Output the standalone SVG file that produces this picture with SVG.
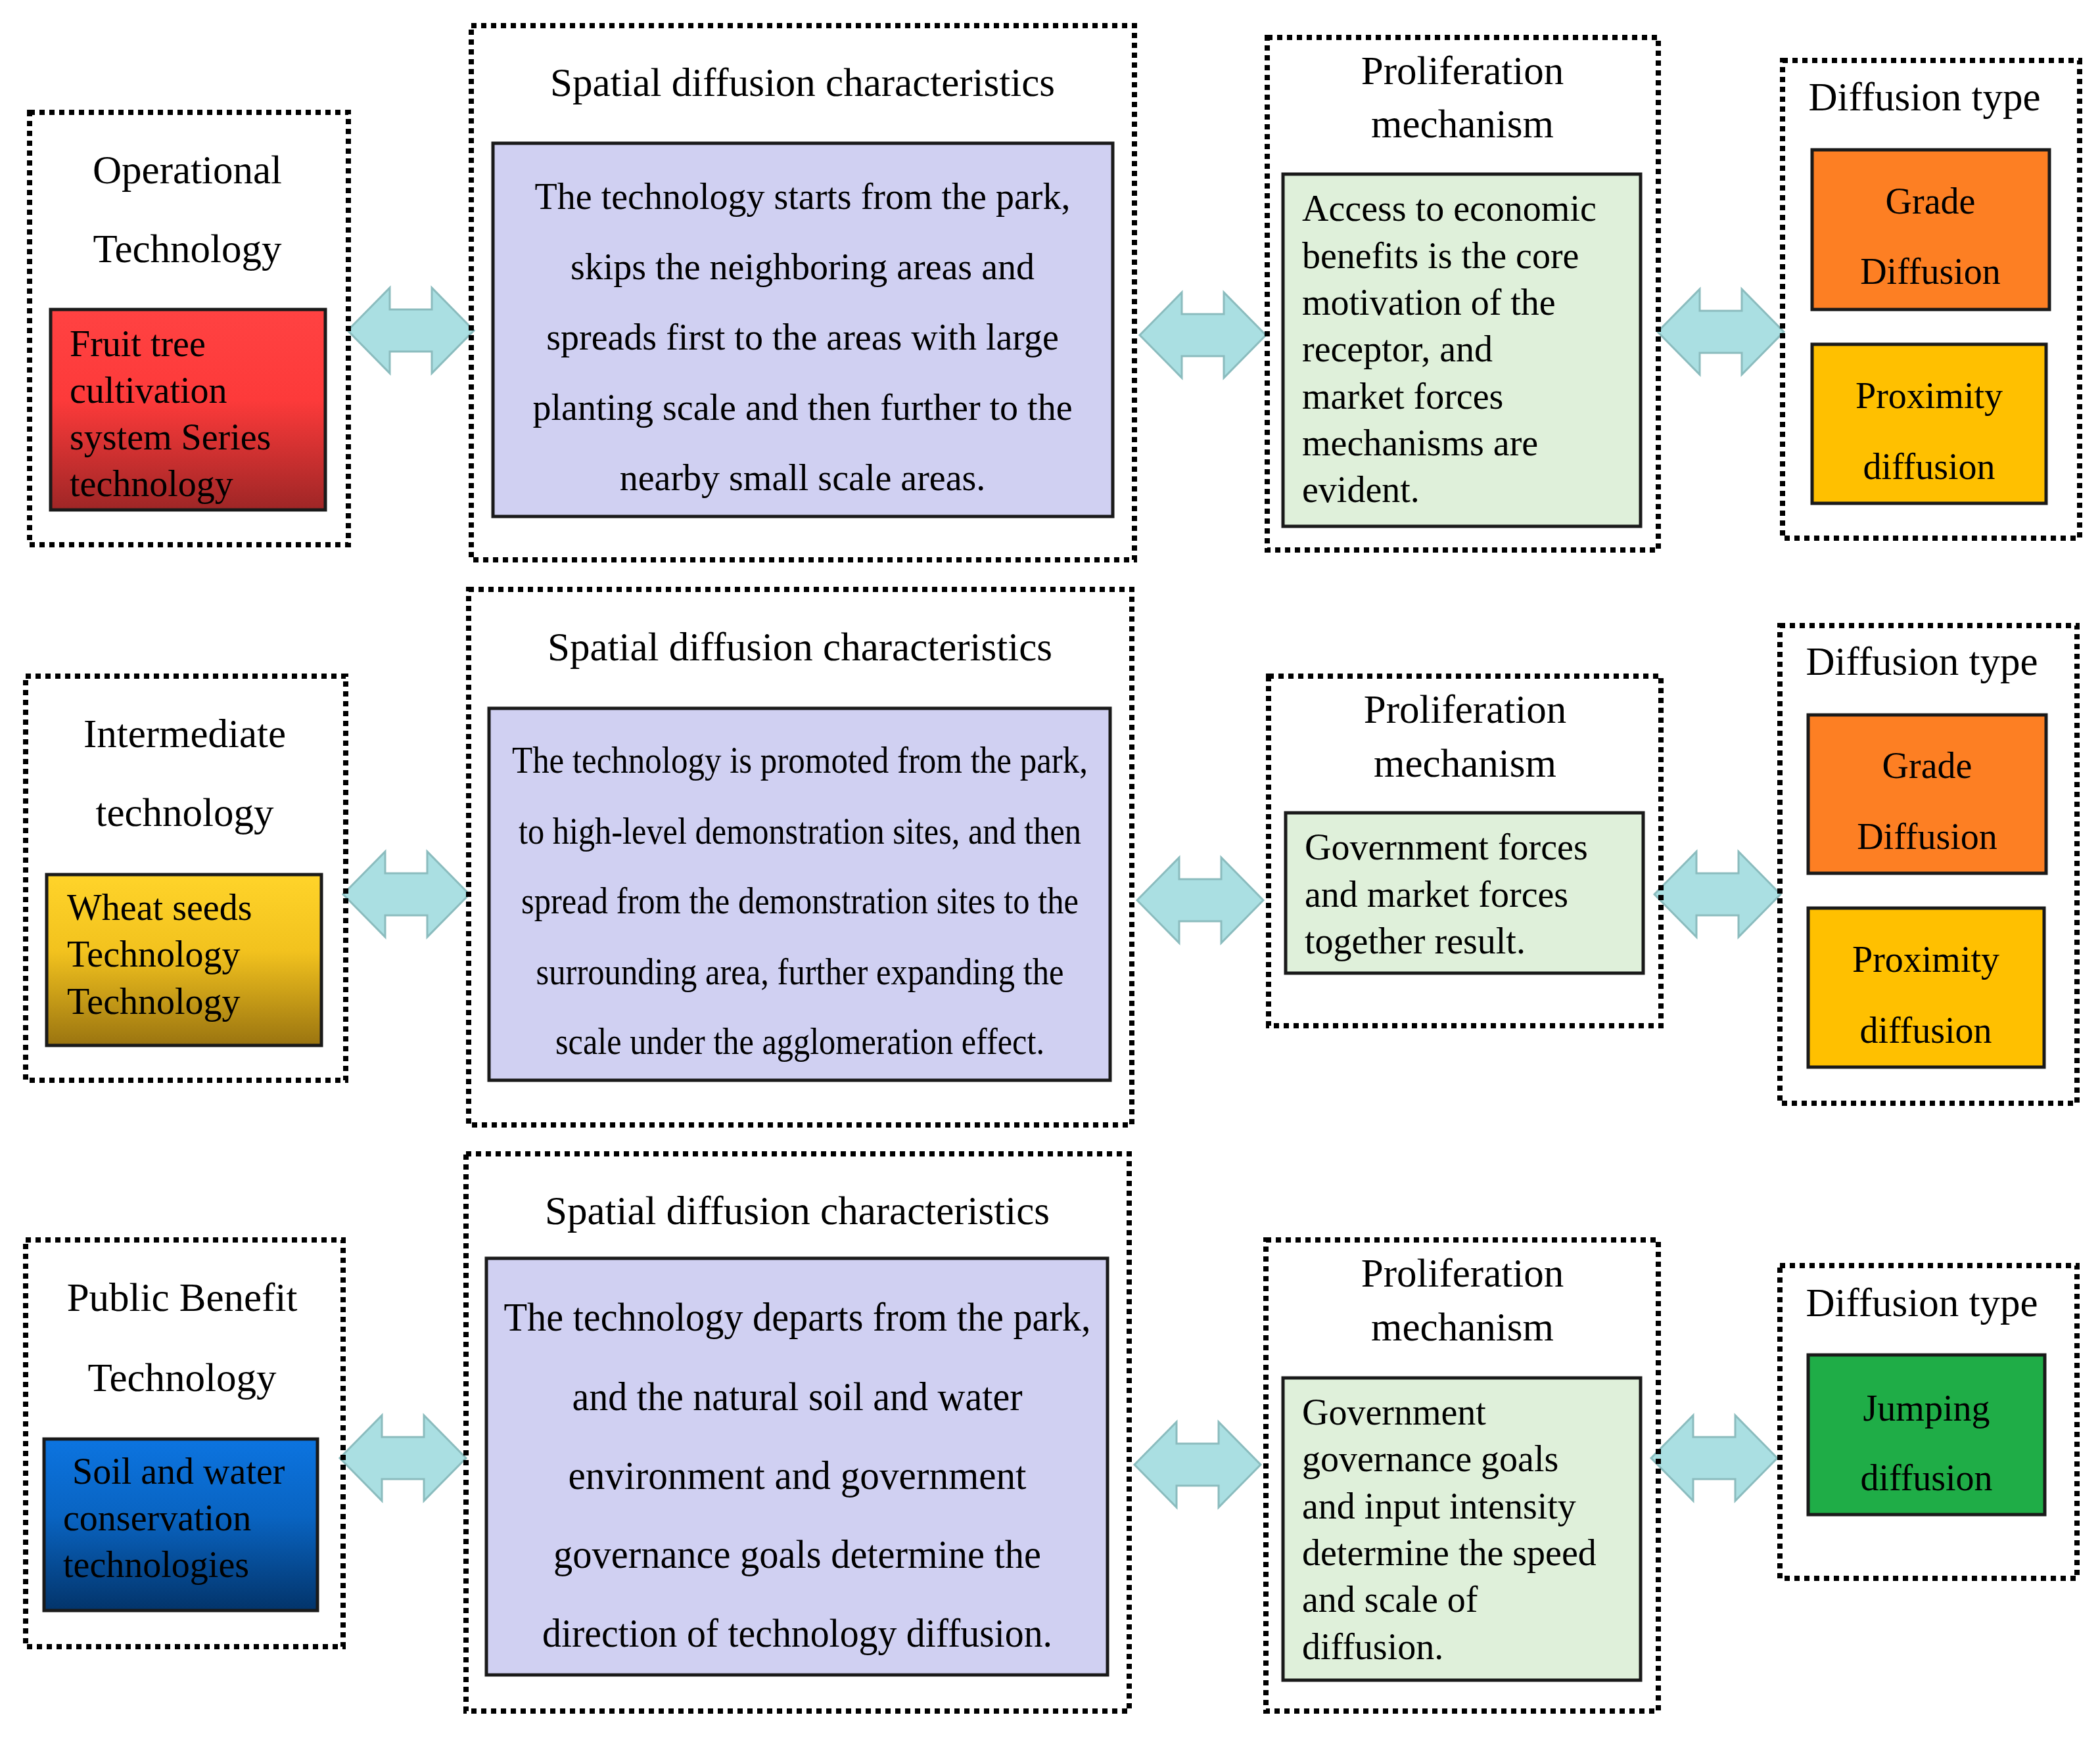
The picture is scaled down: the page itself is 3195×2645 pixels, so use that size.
<svg xmlns="http://www.w3.org/2000/svg" width="3195" height="2645" viewBox="0 0 3195 2645">
<style>
.dot{fill:none;stroke:#000;stroke-width:8;stroke-dasharray:8 7}
.in{stroke:#1a1a1a;stroke-width:5}
.t{font-family:"Liberation Serif","Times New Roman",serif;fill:#000}
.h{font-size:61px;text-anchor:middle}
.c{font-size:56px;text-anchor:middle}
.l{font-size:56px}
.arr{fill:#aadfe2;stroke:#8bbcbe;stroke-width:3}
</style>
<defs>
<linearGradient id="gr" x1="0" y1="0" x2="0" y2="1"><stop offset="0" stop-color="#ff4242"/><stop offset="0.45" stop-color="#fd3a3a"/><stop offset="1" stop-color="#9e2626"/></linearGradient>
<linearGradient id="gy" x1="0" y1="0" x2="0" y2="1"><stop offset="0" stop-color="#ffd42a"/><stop offset="0.45" stop-color="#f2c21e"/><stop offset="1" stop-color="#9a7410"/></linearGradient>
<linearGradient id="gb" x1="0" y1="0" x2="0" y2="1"><stop offset="0" stop-color="#0c74e0"/><stop offset="0.45" stop-color="#0964c2"/><stop offset="1" stop-color="#03346a"/></linearGradient>
<path id="ar" class="arr" d="M0 65 L64 0 L64 33 L128 33 L128 0 L192 65 L128 130 L128 97 L64 97 L64 130 Z"/>
</defs>

<g id="connectors">
<use href="#ar" x="529" y="438"/>
<use href="#ar" x="1734" y="445"/>
<use href="#ar" x="2522" y="440"/>
<use href="#ar" x="522" y="1296"/>
<use href="#ar" x="1730" y="1305"/>
<use href="#ar" x="2517" y="1296"/>
<use href="#ar" x="517" y="2154"/>
<use href="#ar" x="1726" y="2164"/>
<use href="#ar" x="2512" y="2154"/>
</g>

<!-- Row 1 -->
<g id="op-tech">
<rect class="dot" x="45" y="171" width="485" height="658"/>
<text class="t h" x="285" y="279">Operational</text>
<text class="t h" x="285" y="399">Technology</text>
<rect class="in" x="77" y="471" width="418" height="305" fill="url(#gr)"/>
<text class="t l" x="106" y="542">Fruit tree</text>
<text class="t l" x="106" y="613">cultivation</text>
<text class="t l" x="106" y="684">system Series</text>
<text class="t l" x="106" y="755">technology</text>
</g>
<g id="spatial-1">
<rect class="dot" x="717" y="39" width="1009" height="813"/>
<text class="t h" x="1221" y="146">Spatial diffusion characteristics</text>
<rect class="in" x="750" y="218" width="943" height="568" fill="#d0d0f2"/>
<text class="t c" x="1221" y="318">The technology starts from the park,</text>
<text class="t c" x="1221" y="425">skips the neighboring areas and</text>
<text class="t c" x="1221" y="532">spreads first to the areas with large</text>
<text class="t c" x="1221" y="639">planting scale and then further to the</text>
<text class="t c" x="1221" y="746">nearby small scale areas.</text>
</g>
<g id="mech-1">
<rect class="dot" x="1928" y="57" width="595" height="780"/>
<text class="t h" x="2225" y="128">Proliferation</text>
<text class="t h" x="2225" y="209">mechanism</text>
<rect class="in" x="1952" y="265" width="544" height="536" fill="#dff0da"/>
<text class="t l" x="1981" y="336">Access to economic</text>
<text class="t l" x="1981" y="408">benefits is the core</text>
<text class="t l" x="1981" y="479">motivation of the</text>
<text class="t l" x="1981" y="550">receptor, and</text>
<text class="t l" x="1981" y="622">market forces</text>
<text class="t l" x="1981" y="693">mechanisms are</text>
<text class="t l" x="1981" y="764">evident.</text>
</g>
<g id="type-1">
<rect class="dot" x="2712" y="92" width="452" height="727"/>
<text class="t h" x="2928" y="168">Diffusion type</text>
<rect class="in" x="2757" y="228" width="361" height="243" fill="#fd7f23"/>
<text class="t c" x="2937" y="325">Grade</text>
<text class="t c" x="2937" y="432">Diffusion</text>
<rect class="in" x="2757" y="524" width="356" height="242" fill="#ffc000"/>
<text class="t c" x="2935" y="621">Proximity</text>
<text class="t c" x="2935" y="729">diffusion</text>
</g>

<!-- Row 2 -->
<g id="inter-tech">
<rect class="dot" x="39" y="1029" width="487" height="615"/>
<text class="t h" x="281" y="1137">Intermediate</text>
<text class="t h" x="281" y="1257">technology</text>
<rect class="in" x="71" y="1331" width="418" height="260" fill="url(#gy)"/>
<text class="t l" x="102" y="1400">Wheat seeds</text>
<text class="t l" x="102" y="1471">Technology</text>
<text class="t l" x="102" y="1543">Technology</text>
</g>
<g id="spatial-2">
<rect class="dot" x="713" y="897" width="1009" height="815"/>
<text class="t h" x="1217" y="1005">Spatial diffusion characteristics</text>
<rect class="in" x="744" y="1078" width="945" height="566" fill="#d0d0f2"/>
<text class="t c" x="1217" y="1176" textLength="876" lengthAdjust="spacingAndGlyphs">The technology is promoted from the park,</text>
<text class="t c" x="1217" y="1284" textLength="856" lengthAdjust="spacingAndGlyphs">to high-level demonstration sites, and then</text>
<text class="t c" x="1217" y="1390" textLength="848" lengthAdjust="spacingAndGlyphs">spread from the demonstration sites to the</text>
<text class="t c" x="1217" y="1498" textLength="803" lengthAdjust="spacingAndGlyphs">surrounding area, further expanding the</text>
<text class="t c" x="1217" y="1604" textLength="744" lengthAdjust="spacingAndGlyphs">scale under the agglomeration effect.</text>
</g>
<g id="mech-2">
<rect class="dot" x="1930" y="1029" width="597" height="532"/>
<text class="t h" x="2229" y="1100">Proliferation</text>
<text class="t h" x="2229" y="1182">mechanism</text>
<rect class="in" x="1956" y="1237" width="544" height="244" fill="#dff0da"/>
<text class="t l" x="1985" y="1308">Government forces</text>
<text class="t l" x="1985" y="1380">and market forces</text>
<text class="t l" x="1985" y="1451">together result.</text>
</g>
<g id="type-2">
<rect class="dot" x="2708" y="952" width="452" height="727"/>
<text class="t h" x="2924" y="1027">Diffusion type</text>
<rect class="in" x="2751" y="1088" width="362" height="241" fill="#fd7f23"/>
<text class="t c" x="2932" y="1184">Grade</text>
<text class="t c" x="2932" y="1292">Diffusion</text>
<rect class="in" x="2751" y="1382" width="359" height="242" fill="#ffc000"/>
<text class="t c" x="2930" y="1479">Proximity</text>
<text class="t c" x="2930" y="1587">diffusion</text>
</g>

<!-- Row 3 -->
<g id="public-tech">
<rect class="dot" x="39" y="1887" width="483" height="619"/>
<text class="t h" x="277" y="1995">Public Benefit</text>
<text class="t h" x="277" y="2117">Technology</text>
<rect class="in" x="67" y="2190" width="416" height="261" fill="url(#gb)"/>
<text class="t l" x="110" y="2258">Soil and water</text>
<text class="t l" x="96" y="2329">conservation</text>
<text class="t l" x="96" y="2400">technologies</text>
</g>
<g id="spatial-3">
<rect class="dot" x="709" y="1756" width="1009" height="848"/>
<text class="t h" x="1213" y="1863">Spatial diffusion characteristics</text>
<rect class="in" x="740" y="1915" width="945" height="634" fill="#d0d0f2"/>
<text class="t c" x="1213" y="2025" style="font-size:62px" textLength="893" lengthAdjust="spacingAndGlyphs">The technology departs from the park,</text>
<text class="t c" x="1213" y="2146" style="font-size:62px" textLength="685" lengthAdjust="spacingAndGlyphs">and the natural soil and water</text>
<text class="t c" x="1213" y="2266" style="font-size:62px" textLength="697" lengthAdjust="spacingAndGlyphs">environment and government</text>
<text class="t c" x="1213" y="2386" style="font-size:62px" textLength="742" lengthAdjust="spacingAndGlyphs">governance goals determine the</text>
<text class="t c" x="1213" y="2506" style="font-size:62px" textLength="776" lengthAdjust="spacingAndGlyphs">direction of technology diffusion.</text>
</g>
<g id="mech-3">
<rect class="dot" x="1926" y="1887" width="597" height="717"/>
<text class="t h" x="2225" y="1958">Proliferation</text>
<text class="t h" x="2225" y="2040">mechanism</text>
<rect class="in" x="1952" y="2097" width="544" height="460" fill="#dff0da"/>
<text class="t l" x="1981" y="2168">Government</text>
<text class="t l" x="1981" y="2239">governance goals</text>
<text class="t l" x="1981" y="2311">and input intensity</text>
<text class="t l" x="1981" y="2382">determine the speed</text>
<text class="t l" x="1981" y="2453">and scale of</text>
<text class="t l" x="1981" y="2525">diffusion.</text>
</g>
<g id="type-3">
<rect class="dot" x="2708" y="1926" width="452" height="476"/>
<text class="t h" x="2924" y="2003">Diffusion type</text>
<rect class="in" x="2751" y="2062" width="360" height="243" fill="#1fad47"/>
<text class="t c" x="2931" y="2162">Jumping</text>
<text class="t c" x="2931" y="2268">diffusion</text>
</g>
</svg>
